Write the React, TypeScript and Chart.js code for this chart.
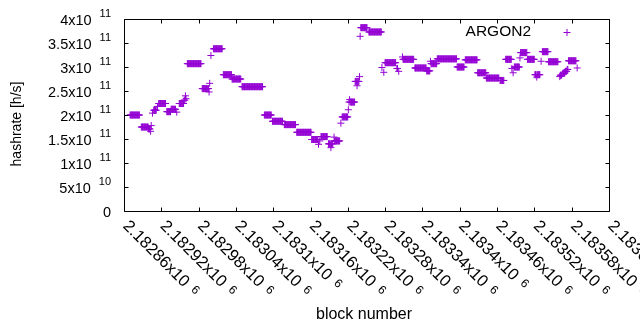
import React, { useEffect, useRef } from "react";
import { Chart, registerables } from "chart.js";

Chart.register(...registerables);

// ---- data: runs of consecutive blocks sharing one hashrate estimate ----
const runStartBlock = [
  2182869, 2182887, 2182899, 2182902, 2182903, 2182905, 2182907, 2182913, 2182915, 2182928,
  2182935, 2182944, 2182948, 2182956, 2182958, 2182959, 2182961, 2182985, 2182996, 2182997,
  2182999, 2183003, 2183019, 2183033, 2183049, 2183085, 2183098, 2183117, 2183137, 2183161,
  2183172, 2183174, 2183176, 2183188, 2183192, 2183193, 2183197, 2183198, 2183208, 2183210,
  2183220, 2183221, 2183222, 2183223, 2183231, 2183234, 2183235, 2183238, 2183239, 2183240,
  2183253, 2183274, 2183277, 2183279, 2183298, 2183301, 2183307, 2183308, 2183327, 2183346,
  2183352, 2183353, 2183363, 2183395, 2183408, 2183428, 2183442, 2183464, 2183473, 2183483,
  2183485, 2183487, 2183496, 2183497, 2183508, 2183520, 2183523, 2183524, 2183530, 2183532,
  2183542, 2183560, 2183561, 2183565, 2183569, 2183572, 2183574, 2183588,
];
const runEndBlock = [
  2182884, 2182898, 2182901, 2182902, 2182903, 2182905, 2182911, 2182913, 2182926, 2182934,
  2182942, 2182944, 2182955, 2182957, 2182958, 2182959, 2182983, 2182995, 2182996, 2182997,
  2182999, 2183017, 2183032, 2183047, 2183082, 2183096, 2183114, 2183135, 2183160, 2183171,
  2183172, 2183174, 2183186, 2183191, 2183192, 2183195, 2183197, 2183206, 2183208, 2183219,
  2183220, 2183221, 2183222, 2183230, 2183233, 2183234, 2183237, 2183238, 2183239, 2183250,
  2183273, 2183274, 2183277, 2183296, 2183299, 2183301, 2183307, 2183325, 2183345, 2183351,
  2183352, 2183362, 2183394, 2183406, 2183427, 2183441, 2183462, 2183470, 2183482, 2183483,
  2183485, 2183495, 2183496, 2183507, 2183519, 2183522, 2183523, 2183528, 2183530, 2183541,
  2183557, 2183560, 2183563, 2183568, 2183571, 2183573, 2183586, 2183588,
];
const runHashrate = [
  2.01e11, 1.76e11, 1.72e11, 1.67e11, 1.79e11, 2.05e11, 2.11e11, 2.19e11, 2.25e11, 2.08e11,
  2.13e11, 2.07e11, 2.25e11, 2.32e11, 2.41e11, 2.35e11, 3.08e11, 2.56e11, 2.49e11, 2.67e11,
  3.25e11, 3.39e11, 2.85e11, 2.76e11, 2.60e11, 2.01e11, 1.88e11, 1.81e11, 1.65e11, 1.50e11,
  1.40e11, 1.47e11, 1.56e11, 1.41e11, 1.33e11, 1.41e11, 1.55e11, 1.47e11, 1.84e11, 1.97e11,
  2.12e11, 2.28e11, 2.33e11, 2.28e11, 2.71e11, 2.62e11, 2.71e11, 2.81e11, 3.65e11, 3.83e11,
  3.74e11, 3.00e11, 2.90e11, 3.10e11, 2.98e11, 2.92e11, 3.22e11, 3.17e11, 2.99e11, 2.93e11,
  3.13e11, 3.08e11, 3.18e11, 3.01e11, 3.16e11, 2.89e11, 2.78e11, 2.73e11, 3.17e11, 2.98e11,
  2.89e11, 3.01e11, 3.20e11, 3.31e11, 3.17e11, 2.85e11, 2.80e11, 2.85e11, 3.13e11, 3.33e11,
  3.12e11, 2.81e11, 2.84e11, 2.88e11, 2.92e11, 2.96e11, 3.14e11, 2.99e11,
];

// ---- axes ----
const xTickValues = [
  2182860, 2182920, 2182980, 2183040, 2183100, 2183160, 2183220,
  2183280, 2183340, 2183400, 2183460, 2183520, 2183580, 2183640,
];
const xTickMantissas = [
  "2.18286", "2.18292", "2.18298", "2.18304", "2.1831", "2.18316", "2.18322",
  "2.18328", "2.18334", "2.1834", "2.18346", "2.18352", "2.18358", "2.18364",
];
const xTickExponent = "6";
const yTickValues = [0, 5e10, 1e11, 1.5e11, 2e11, 2.5e11, 3e11, 3.5e11, 4e11];
const yTickMantissas = ["0", "5", "1", "1.5", "2", "2.5", "3", "3.5", "4"];
const yTickExponents = ["", "10", "11", "11", "11", "11", "11", "11", "11"];

const seriesLabel = "ARGON2";
const xTitle = "block number";
const yTitle = "hashrate [h/s]";

const COLOR = "#9400D3";
const FONT = "'Liberation Sans', Arial, sans-serif";
const Y_TICK_FONT = 14.5;
const X_TICK_FONT = 16.5;
const SUP_FONT = 11;

function buildPoints() {
  const pts: { x: number; y: number }[] = [];
  for (let i = 0; i < runStartBlock.length; i++) {
    for (let b = runStartBlock[i]; b <= runEndBlock[i]; b++) {
      pts.push({ x: b, y: runHashrate[i] });
    }
  }
  return pts;
}

const decorPlugin = {
  id: "gnuplotDecor",
  afterDraw(chart: any) {
    const ctx: CanvasRenderingContext2D = chart.ctx;
    const xs = chart.scales.x;
    const ys = chart.scales.y;
    const { left, right, top, bottom } = chart.chartArea;
    ctx.save();
    ctx.strokeStyle = "#000";
    ctx.lineWidth = 1;
    ctx.beginPath();
    ctx.rect(left, top, right - left, bottom - top);
    ctx.stroke();

    const T = 4;
    ctx.beginPath();
    yTickValues.forEach((v) => {
      const py = Math.floor(ys.getPixelForValue(v)) + 0.5;
      ctx.moveTo(left, py);
      ctx.lineTo(left + T, py);
      ctx.moveTo(right, py);
      ctx.lineTo(right - T, py);
    });
    xTickValues.forEach((v) => {
      const px = Math.floor(xs.getPixelForValue(v)) + 0.5;
      ctx.moveTo(px, bottom);
      ctx.lineTo(px, bottom - T);
      ctx.moveTo(px, top);
      ctx.lineTo(px, top + T);
    });
    ctx.stroke();

    ctx.fillStyle = "#000";
    // y tick labels
    yTickValues.forEach((v, i) => {
      const py = ys.getPixelForValue(v);
      const exp = yTickExponents[i];
      ctx.textBaseline = "middle";
      ctx.textAlign = "right";
      if (!exp) {
        ctx.font = `${Y_TICK_FONT}px ${FONT}`;
        ctx.fillText(yTickMantissas[i], 111, py + 1);
        return;
      }
      ctx.font = `${SUP_FONT}px ${FONT}`;
      const ew = ctx.measureText(exp).width;
      ctx.fillText(exp, 111, py - 6);
      ctx.font = `${Y_TICK_FONT}px ${FONT}`;
      ctx.fillText(yTickMantissas[i] + "x10", 111 - ew - 8, py + 1);
    });

    // x tick labels, rotated
    xTickValues.forEach((v, i) => {
      const px = xs.getPixelForValue(v);
      ctx.save();
      ctx.translate(px + 1, bottom + 12);
      ctx.rotate(Math.PI / 4);
      ctx.textAlign = "left";
      ctx.textBaseline = "middle";
      ctx.font = `${X_TICK_FONT}px ${FONT}`;
      const base = xTickMantissas[i] + "x10";
      ctx.fillText(base, 0, 0);
      const w = ctx.measureText(base).width;
      ctx.font = `12px ${FONT}`;
      ctx.fillText(xTickExponent, w + 7, -2);
      ctx.restore();
    });

    // axis titles
    ctx.textAlign = "center";
    ctx.textBaseline = "middle";
    ctx.font = `16px ${FONT}`;
    ctx.fillText(xTitle, 364, 315);
    ctx.font = `14px ${FONT}`;
    ctx.save();
    ctx.translate(17, 124);
    ctx.rotate(-Math.PI / 2);
    ctx.fillText(yTitle, 0, 0);
    ctx.restore();

    // legend
    ctx.font = `15.5px ${FONT}`;
    ctx.textAlign = "right";
    ctx.fillText(seriesLabel, 531, 32);
    ctx.strokeStyle = COLOR;
    ctx.beginPath();
    ctx.moveTo(563.5, 32.5);
    ctx.lineTo(570.5, 32.5);
    ctx.moveTo(567, 29);
    ctx.lineTo(567, 36);
    ctx.stroke();
    ctx.restore();
  },
};

export default function App() {
  const ref = useRef<HTMLCanvasElement>(null);
  useEffect(() => {
    if (!ref.current) return;
    const chart = new Chart(ref.current, {
      type: "scatter",
      data: {
        datasets: [
          {
            label: seriesLabel,
            data: buildPoints(),
            pointStyle: "cross",
            pointRadius: 3.5,
            pointBorderWidth: 1,
            borderColor: COLOR,
            backgroundColor: COLOR,
            showLine: false,
          },
        ],
      },
      options: {
        animation: false,
        responsive: false,
        devicePixelRatio: 1,
        events: [],
        layout: { padding: { left: 124.5, right: 30.5, top: 19.5, bottom: 118.5 } },
        plugins: { legend: { display: false }, tooltip: { enabled: false } },
        scales: {
          x: { type: "linear", min: 2182860, max: 2183640, display: false },
          y: { type: "linear", min: 0, max: 4e11, display: false },
        },
      },
      plugins: [decorPlugin],
    });
    return () => chart.destroy();
  }, []);
  return (
    <div style={{ position: "absolute", left: 0, top: 0, width: 640, height: 330, background: "#fff" }}>
      <canvas ref={ref} width={640} height={330} style={{ display: "block" }} />
    </div>
  );
}
